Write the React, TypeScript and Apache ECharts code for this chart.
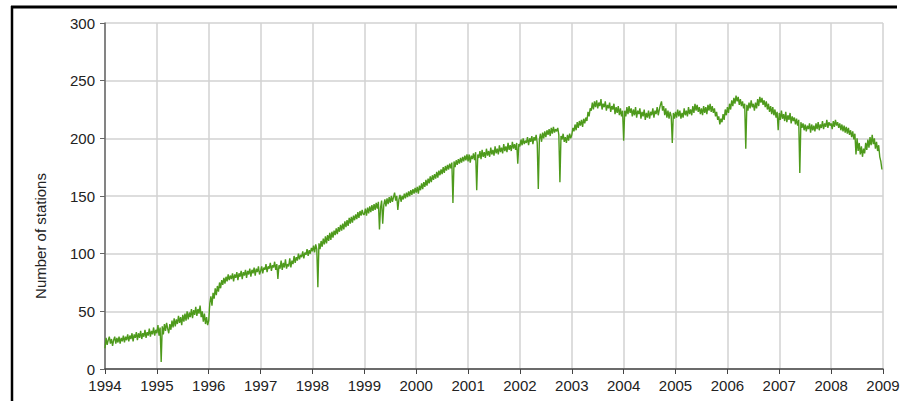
import React, { useEffect, useRef } from "react";
import * as echarts from "echarts";

const yearTicks = [1994, 1995, 1996, 1997, 1998, 1999, 2000, 2001, 2002, 2003, 2004, 2005, 2006, 2007, 2008, 2009];
const yTicks = [0, 50, 100, 150, 200, 250, 300];
const yAxisTitle = "Number of stations";

const y1994 = [18,27,21,25,28,22,26,20,25,28,22,27,23,28,22,27,24,29,23,28,25,30,24,29,26,31,24,30,27,32,25,31,27,33,26,31,28,34,27,32,29,35,28,33,30,36,29,34];
const y1995 = [31,38,29,36,6,37,30,39,33,40,35,31,39,34,42,36,44,37,43,39,46,40,45,38,47,41,48,42,50,43,49,45,52,44,51,47,54,46,52,48,55,45,50,41,48,39,45,38];
const y1996 = [42,57,63,55,66,61,70,64,72,67,75,70,77,73,79,74,80,76,82,77,81,78,83,76,82,79,84,77,83,80,85,78,84,81,86,79,85,82,87,80,86,83,88,81,87,84,89,82];
const y1997 = [85,89,83,88,86,91,84,89,87,92,85,90,88,93,86,91,78,90,87,94,86,92,88,95,87,91,89,96,88,94,91,98,92,97,94,100,95,99,97,102,96,101,99,104,98,103,100,105];
const y1998 = [102,107,101,108,104,71,109,104,111,106,113,108,115,109,116,111,118,112,119,114,120,116,122,117,123,119,125,120,126,121,128,123,129,124,131,126,132,127,133,129,134,130,136,131,137,133,138,134];
const y1999 = [134,139,133,140,135,141,136,142,137,143,138,144,139,145,121,140,146,126,142,147,141,148,143,149,144,150,145,149,153,146,150,138,147,151,145,150,147,152,148,153,149,154,150,155,151,156,152,157];
const y2000 = [153,158,152,159,155,161,156,162,158,164,159,165,161,167,162,168,164,169,165,171,166,172,168,173,169,175,170,176,172,177,173,178,174,179,144,180,175,181,177,182,178,183,179,184,180,185,181,186];
const y2001 = [180,186,179,185,182,187,181,188,155,186,183,189,182,190,184,188,183,191,185,189,184,192,186,190,185,193,187,191,186,194,188,192,187,195,189,193,188,196,190,194,189,197,191,195,190,196,178,195];
const y2002 = [193,199,194,200,195,198,196,201,194,200,197,202,195,201,198,203,196,156,199,204,197,205,200,206,201,207,203,208,202,209,204,210,205,208,206,209,203,162,202,199,204,197,201,196,203,198,204,200];
const y2003 = [203,209,206,212,207,214,209,215,211,216,210,217,213,218,215,223,219,226,224,231,225,232,227,233,226,231,228,234,225,230,227,232,224,229,226,231,223,228,225,230,221,227,222,228,220,226,219,224];
const y2004 = [198,224,219,227,221,228,222,226,219,225,220,227,218,224,221,226,217,223,219,225,216,222,218,224,217,223,220,226,218,224,221,227,220,225,229,232,224,228,220,226,218,224,217,223,219,196,222,217];
const y2005 = [223,218,225,219,224,217,222,218,226,220,224,219,227,221,225,220,228,222,230,224,229,223,227,221,226,220,228,222,227,221,229,224,230,223,228,222,226,219,223,216,219,212,217,214,221,216,225,220];
const y2006 = [227,222,230,225,233,228,235,230,237,232,236,229,234,228,232,226,230,191,229,224,231,226,233,227,230,224,231,226,234,228,236,231,235,229,233,227,232,225,230,223,228,221,227,220,225,218,223,207];
const y2007 = [222,216,224,217,221,215,223,214,220,216,222,213,219,215,218,212,217,211,216,170,214,209,213,207,212,206,211,208,213,205,212,207,211,206,213,208,214,207,212,209,215,208,213,210,216,209,214,211];
const y2008 = [213,208,215,210,216,211,214,209,213,207,212,206,211,205,210,204,209,203,207,201,206,199,204,186,200,189,196,186,193,184,191,187,196,190,199,192,201,194,203,195,200,191,197,189,194,184,180,173];

const yearly: [number, number[]][] = [
  [1994, y1994], [1995, y1995], [1996, y1996], [1997, y1997], [1998, y1998],
  [1999, y1999], [2000, y2000], [2001, y2001], [2002, y2002], [2003, y2003],
  [2004, y2004], [2005, y2005], [2006, y2006], [2007, y2007], [2008, y2008],
];

export default function App() {
  const ref = useRef<HTMLDivElement>(null);
  useEffect(() => {
    if (!ref.current) return;
    const chart = echarts.init(ref.current, undefined, { renderer: "svg" });
    const data: [number, number][] = [];
    yearly.forEach(([yr, vals]) => {
      vals.forEach((v, i) => data.push([yr + i / vals.length, v]));
    });
    const font = "Arial, 'Liberation Sans', sans-serif";
    chart.setOption({
      animation: false,
      backgroundColor: "#ffffff",
      grid: { left: 105, right: 22, top: 23, bottom: 32, containLabel: false },
      xAxis: {
        type: "value",
        min: yearTicks[0],
        max: yearTicks[yearTicks.length - 1],
        interval: 1,
        axisLine: { show: true, lineStyle: { color: "#444", width: 1.5 } },
        axisTick: { show: true, length: 5, lineStyle: { color: "#444" } },
        axisLabel: { color: "#222", fontSize: 15, fontFamily: font, margin: 9, formatter: (v: number) => String(v) },
        splitLine: { show: true, lineStyle: { color: "#d2d2d2", width: 1.5 } },
      },
      yAxis: {
        type: "value",
        min: yTicks[0],
        max: yTicks[yTicks.length - 1],
        interval: 50,
        axisLine: { show: true, lineStyle: { color: "#666", width: 1.5 } },
        axisTick: { show: true, length: 5, lineStyle: { color: "#666" } },
        axisLabel: { color: "#222", fontSize: 15, fontFamily: font, margin: 10 },
        splitLine: { show: true, lineStyle: { color: "#d2d2d2", width: 1.5 } },
      },
      graphic: [
        { type: "line", shape: { x1: 11, y1: 7, x2: 897, y2: 7 }, style: { stroke: "#000", lineWidth: 3 } },
        { type: "line", shape: { x1: 12, y1: 6, x2: 12, y2: 401 }, style: { stroke: "#000", lineWidth: 2.5 } },
        {
          type: "text",
          x: 40,
          y: 236,
          rotation: Math.PI / 2,
          style: { text: yAxisTitle, fill: "#222", font: `15px ${font}`, textAlign: "center", textVerticalAlign: "middle" },
        },
      ],
      series: [
        {
          type: "line",
          data,
          showSymbol: false,
          symbol: "none",
          lineStyle: { color: "#4e9a1c", width: 1.4 },
        },
      ],
    });
    return () => chart.dispose();
  }, []);
  return <div ref={ref} style={{ position: "fixed", left: 0, top: 0, width: 905, height: 401 }} />;
}
